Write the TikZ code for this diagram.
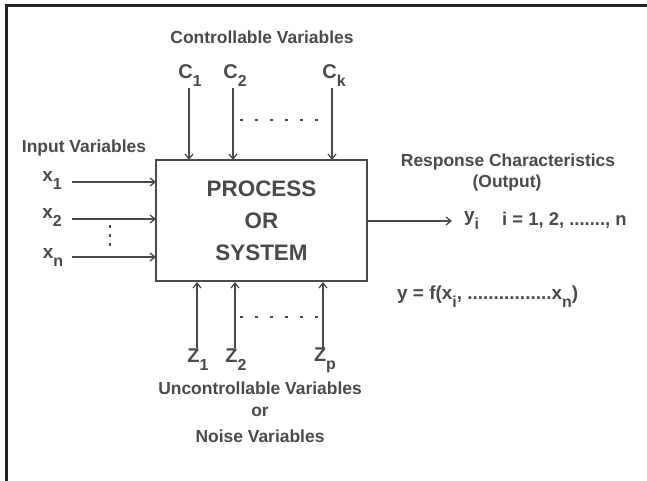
\documentclass[tikz,border=0pt]{standalone}
\usepackage{fontspec}
\setmainfont{Liberation Sans}
\usetikzlibrary{arrows.meta}
\definecolor{ink}{HTML}{4A4A4A}
\definecolor{frame}{HTML}{222222}
\newcommand\lowsub[1]{\raisebox{-8bp}{\fontsize{16}{16}\selectfont #1}}
\begin{document}
\begin{tikzpicture}[x=1bp,y=-1bp,
  txt/.style={text=ink,font=\bfseries\fontsize{17.5}{20}\selectfont,inner sep=0pt,align=center},
  lbl/.style={text=ink,font=\bfseries\fontsize{20}{20}\selectfont,inner sep=0pt},
  feed/.style={draw=ink,line width=1.5bp,-{Straight Barb[length=5bp,width=8bp,line width=1.3bp]}},
  dots/.style={draw=ink,line width=1.8bp,dash pattern=on 3bp off 12bp},
  procbox/.style={draw=ink,line width=2bp,minimum width=211bp,minimum height=121bp,inner sep=0pt,
    text=ink,font=\bfseries\fontsize{22.5}{32}\selectfont,align=center}]
\useasboundingbox (0,0) rectangle (647,481);
\fill[white] (0,0) rectangle (647,481);
% outer frame (top and left edges only)
\draw[frame,line width=3bp] (6,481) -- (6,5.5) -- (647,5.5);

% central block
\node[procbox] (proc) at (261.5,220.5) {PROCESS\\OR\\SYSTEM};

% controllable variables
\node[txt] (ctitle) at (262,37) {Controllable Variables};
\node[lbl] (c1) at (190,76) {C\lowsub{1}};
\node[lbl] (c2) at (235,76) {C\lowsub{2}};
\node[lbl] (ck) at (334,76) {C\lowsub{k}};
\coordinate (c1s) at (189,88); \coordinate (c1e) at (189,160);
\coordinate (c2s) at (233,88); \coordinate (c2e) at (233,160);
\coordinate (cks) at (332,88); \coordinate (cke) at (332,160);
\draw[feed] (c1s) -- (c1e);
\draw[feed] (c2s) -- (c2e);
\draw[feed] (cks) -- (cke);
\coordinate (cd1) at (240,120); \coordinate (cd2) at (326,120);
\draw[dots] (cd1) -- (cd2);

% input variables
\node[txt] (ititle) at (84,148) {Input Variables};
\node[lbl,font=\bfseries\fontsize{19}{20}\selectfont] (x1) at (52,181) {x\lowsub{1}};
\node[lbl,font=\bfseries\fontsize{19}{20}\selectfont] (x2) at (52,217) {x\lowsub{2}};
\node[lbl,font=\bfseries\fontsize{19}{20}\selectfont] (xn) at (53,257) {x\lowsub{n}};
\coordinate (x1s) at (72,182); \coordinate (x1e) at (156,182);
\coordinate (x2s) at (72,219); \coordinate (x2e) at (156,219);
\coordinate (xns) at (72,257); \coordinate (xne) at (156,257);
\draw[feed] (x1s) -- (x1e);
\draw[feed] (x2s) -- (x2e);
\draw[feed] (xns) -- (xne);
\coordinate (xd1) at (110,225); \coordinate (xd2) at (110,252);
\draw[dots,dash pattern=on 3bp off 6bp] (xd1) -- (xd2);

% output
\coordinate (yo) at (452,221);
\draw[feed] (proc.east |- yo) -- (yo);
\node[txt] (rtitle) at (508,162) {Response Characteristics};
\node[txt] (otitle) at (507,183) {(Output)};
\node[lbl,font=\bfseries\fontsize{19}{20}\selectfont,anchor=west] (yi) at (464,220) {y\lowsub{i}};
\node[txt,font=\bfseries\fontsize{18.5}{20}\selectfont,anchor=west] (irange) at (502,220) {i = 1, 2, .......,  n};
\node[txt,font=\bfseries\fontsize{19}{20}\selectfont,anchor=west] (func) at (397,297) {y = f(x\lowsub{i}, ................x\lowsub{n})};

% uncontrollable variables
\coordinate (z1s) at (197,348); \coordinate (z1e) at (197,282);
\coordinate (z2s) at (235,348); \coordinate (z2e) at (235,282);
\coordinate (zps) at (323,348); \coordinate (zpe) at (323,282);
\draw[feed] (z1s) -- (z1e);
\draw[feed] (z2s) -- (z2e);
\draw[feed] (zps) -- (zpe);
\coordinate (zd1) at (240,317); \coordinate (zd2) at (320,317);
\draw[dots] (zd1) -- (zd2);
\node[lbl] (z1) at (198,360) {Z\lowsub{1}};
\node[lbl] (z2) at (236,360) {Z\lowsub{2}};
\node[lbl] (zp) at (325,360) {Z\lowsub{p}};
\node[txt] (utitle) at (260,388) {Uncontrollable Variables};
\node[txt] (ortxt) at (260,412) {or};
\node[txt] (ntitle) at (260,436) {Noise Variables};
\end{tikzpicture}
\end{document}
